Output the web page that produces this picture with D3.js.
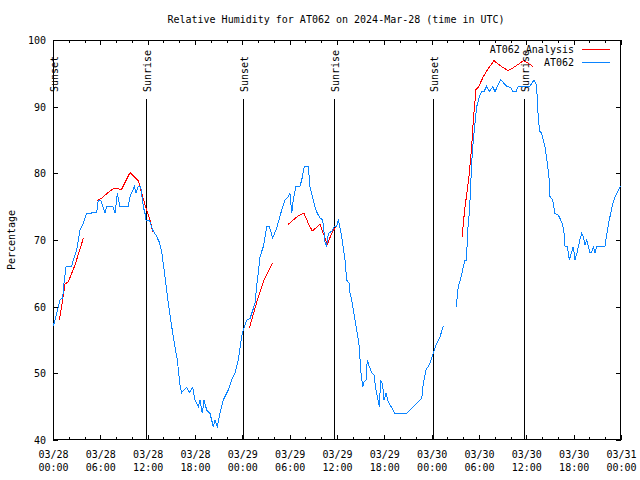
<!DOCTYPE html>
<html>
<head>
<meta charset="utf-8">
<script src="https://cdn.jsdelivr.net/npm/d3@7"></script>
<style>
  html, body { margin: 0; padding: 0; background: #fff; }
  svg { display: block; }
  text { font-family: "DejaVu Sans Mono", "Liberation Mono", monospace; font-size: 10px; fill: #000; }
</style>
</head>
<body>
<div id="chart"></div>
<script>
// ---------- DATA ----------
const startDate = "2024-03-28T00:00:00Z";
const endDate = "2024-03-31T00:00:00Z";
const titleText = "Relative Humidity for AT062 on 2024-Mar-28 (time in UTC)";
const yLabel = "Percentage";
const yTicks = [40, 50, 60, 70, 80, 90, 100];
const xMajorHours = [0, 6, 12, 18, 24, 30, 36, 42, 48, 54, 60, 66, 72];
const xTickLabels = [["03/28","00:00"],["03/28","06:00"],["03/28","12:00"],["03/28","18:00"],
                     ["03/29","00:00"],["03/29","06:00"],["03/29","12:00"],["03/29","18:00"],
                     ["03/30","00:00"],["03/30","06:00"],["03/30","12:00"],["03/30","18:00"],
                     ["03/31","00:00"]];
const sunLabels = ["Sunset", "Sunrise", "Sunset", "Sunrise", "Sunset", "Sunrise"];
const sunHours = [0.04, 11.79, 24.12, 35.66, 48.2, 59.74];

const seriesNames = ["AT062 Analysis", "AT062"];

// AT062 observations (hours since start, % RH); null = gap
const obsHours = [0.04,0.25,0.67,0.89,1.23,1.39,1.65,2.37,2.57,3.0,3.42,3.84,4.27,5.54,5.74,6.05,6.59,6.81,7.6,7.86,
  8.15,8.49,9.51,9.76,10.31,10.52,10.81,11.12,11.45,11.66,11.79,12.21,12.64,13.06,13.47,13.78,14.2,14.62,15.05,15.46,
  15.76,16.1,16.31,16.95,17.28,17.71,18.0,18.42,18.63,18.93,19.14,19.48,19.9,20.32,20.53,20.83,21.17,21.59,22.22,22.65,
  23.07,23.49,23.92,24.12,24.55,24.97,25.61,25.82,26.02,26.24,26.66,27.09,27.42,27.85,28.36,28.99,29.41,29.83,30.04,30.26,
  30.46,30.8,31.31,31.53,31.85,32.36,32.58,32.79,33.21,33.5,33.84,34.19,34.48,34.69,34.9,35.33,35.66,35.96,36.17,36.6,
  37.01,37.23,37.56,37.65,37.86,38.07,38.5,38.83,39.0,39.26,39.42,39.68,39.84,40.1,40.4,40.69,40.94,41.23,41.36,41.54,
  41.79,41.96,42.21,42.5,43.35,44.84,45.67,46.52,46.74,46.94,47.28,47.79,48.2,48.64,49.06,49.48,50.3,
  51.17,51.25,51.5,51.8,52.01,52.23,52.44,52.52,52.77,52.86,53.07,53.28,53.49,53.71,54.04,54.34,54.63,54.98,55.31,55.74,
  56.03,56.75,57.08,57.59,58.02,58.27,58.69,58.98,60.46,60.68,60.97,61.22,61.39,61.52,61.73,61.95,62.37,62.66,62.91,63.0,
  63.34,63.63,64.05,64.36,64.61,64.78,64.9,65.2,65.45,65.75,65.95,66.17,66.46,66.8,67.02,67.22,67.44,67.65,67.86,68.07,
  68.28,68.49,68.7,68.92,69.97,70.18,70.39,70.69,71.02,71.36,71.66,71.96];
const obsValues = [57.1,58,60,61,61.3,63.5,66,66.1,67,68.5,71.5,72.5,74,74.1,76,76,74,75,75,74,
  77,75,75,76.5,78,77.1,78,78,75,74,73,73,71.5,70.7,69.7,68.2,64.5,60.5,57,54,
  52,48.2,47.1,47.9,47.1,47.9,46,45,46,44,46,44.5,44,42,43,42,44,46,47.5,49,
  50,52,55.5,56.5,58,58.2,60.5,63.2,65,67.5,69,72,72,70.3,71.8,74.5,76,76.5,77,74,
  76,78,78.1,79,81,81,78,77,75,74,73.3,73,69.7,69.1,71,71.3,72,72,73.1,70.5,
  67,64,63.5,62,61,59.5,56.5,54,50.5,48,48.7,49,52,51,50.1,49.75,47.5,45.75,45,49,
  48.25,46,47,45.75,44,44,45,46,46.25,48.5,50.5,51.5,53,54.5,55.5,57.1,null,
  60,62.25,63.5,64.75,66,67,67,70.75,74,76,81.5,85,87.5,90,91.5,92.25,92.25,93.1,92.25,93,
  92.25,94.1,93.6,93,92.9,92.25,92.25,93.1,93.1,93.5,94,93.5,91.5,88,86.25,86,84,81.5,79,76.5,
  76,74,73.75,73,72.25,71,69.1,69,67,68.25,69,67,68.25,70.1,71,70.5,69.25,70,69,68.1,
  68.1,69,68.1,69.1,69.1,70.75,72.25,74,75.75,76.75,77.5,78.1];

// AT062 Analysis (hours since start, % RH); null = gap
const anaHours = [0.8,1.1,1.52,1.94,2.79,3.84,4.5,
  5.6,6.17,7.0,7.73,8.7,9.76,10.81,11.24,11.66,12.3,12.64,18.0,
  24.88,25.9,26.75,27.8,28.8,
  29.83,30.46,31.09,31.82,32.36,32.87,33.84,34.26,34.77,35.33,35.96,45.0,
  51.88,52.01,52.23,52.52,52.77,53.07,53.28,53.62,53.91,54.55,55.18,55.9,56.75,57.71,58.69,59.61,60.25,60.88];
const anaValues = [58,60,63.4,63.75,66.25,70.25,null,
  75.9,76.25,77.15,77.75,77.6,80.1,78.9,77,75.3,73,71.25,null,
  56.75,61,64,66.5,null,
  72.35,73,73.65,74,72.5,71.35,72.35,71,69.35,71,72.25,null,
  70.4,72.5,75,77.5,80,84,88,92.6,92.9,94.5,95.75,96.9,96.1,95.4,96.1,96.9,96.5,96];

const seriesColors = ["#ff0000", "#0a84ff"];

// ---------- CHART ----------
(function () {
const W = 640, H = 480;
const mL = 53, mR = 621, mT = 40, mB = 440;
const t0 = new Date(startDate);
const hourToDate = h => new Date(t0.getTime() + h * 3600e3);

const x = d3.scaleUtc().domain([new Date(startDate), new Date(endDate)]).range([mL, mR]);
const y = d3.scaleLinear().domain([40, 100]).range([mB, mT]);

const svg = d3.select("#chart").append("svg").attr("width", W).attr("height", H);
svg.append("rect").attr("width", W).attr("height", H).attr("fill", "#fff");

svg.append("text").attr("x", 336).attr("y", 19).attr("text-anchor", "middle")
  .attr("dominant-baseline", "central").text(titleText);

svg.append("text").attr("transform", `translate(11,${(mT + mB) / 2}) rotate(-90)`)
  .attr("text-anchor", "middle").attr("dominant-baseline", "central").text(yLabel);

const majorDates = xMajorHours.map(hourToDate);
const minorDates = d3.range(0, 73, 2).filter(h => h % 6 !== 0).map(hourToDate);

svg.append("g").attr("transform", `translate(0,${mB})`)
  .call(d3.axisBottom(x).tickValues(minorDates).tickSize(-3).tickSizeOuter(0).tickFormat(""));
svg.append("g").attr("transform", `translate(0,${mT})`)
  .call(d3.axisTop(x).tickValues(minorDates).tickSize(-3).tickSizeOuter(0).tickFormat(""));

const gx = svg.append("g").attr("transform", `translate(0,${mB})`)
  .call(d3.axisBottom(x).tickValues(majorDates).tickSize(-5).tickSizeOuter(0).tickFormat(""));
gx.selectAll(".tick").each(function(d, i) {
  const t = d3.select(this).append("text").attr("text-anchor", "middle").attr("fill", "#000");
  t.append("tspan").attr("x", 0).attr("y", 17.5).text(xTickLabels[i][0]);
  t.append("tspan").attr("x", 0).attr("y", 30.5).text(xTickLabels[i][1]);
});
svg.append("g").attr("transform", `translate(0,${mT})`)
  .call(d3.axisTop(x).tickValues(majorDates).tickSize(-5).tickSizeOuter(0).tickFormat(""));

const gy = svg.append("g").attr("transform", `translate(${mL},0)`)
  .call(d3.axisLeft(y).tickValues(yTicks).tickSize(-5).tickSizeOuter(0).tickPadding(7).tickFormat(d3.format("d")));
svg.append("g").attr("transform", `translate(${mR},0)`)
  .call(d3.axisRight(y).tickValues(yTicks).tickSize(-5).tickSizeOuter(0).tickFormat(""));

svg.selectAll(".domain").remove();
svg.selectAll(".tick line").attr("stroke", "#000").attr("shape-rendering", "crispEdges");
svg.selectAll("g").attr("font-family", null).attr("font-size", null);
gy.selectAll(".tick text").attr("fill", "#000").attr("dominant-baseline", "central").attr("dy", null);

svg.append("rect").attr("x", mL + 0.5).attr("y", mT + 0.5)
  .attr("width", mR - mL - 1).attr("height", mB - mT - 1)
  .attr("fill", "none").attr("stroke", "#000").attr("shape-rendering", "crispEdges");

const sun = svg.append("g");
sunHours.forEach((h, i) => {
  const xv = Math.round(x(hourToDate(h))) + 0.5;
  sun.append("line").attr("x1", xv).attr("x2", xv).attr("y1", 99).attr("y2", mB)
    .attr("stroke", "#000").attr("shape-rendering", "crispEdges");
  sun.append("text").attr("transform", `translate(${xv + 1},92) rotate(-90)`)
    .attr("dominant-baseline", "central").text(sunLabels[i]);
});

const line = d3.line()
  .defined(d => d[1] !== null)
  .x(d => x(hourToDate(d[0])))
  .y(d => y(d[1]));

const anaData = anaHours.map((h, i) => [h, anaValues[i]]);
const obsData = obsHours.map((h, i) => [h, obsValues[i]]);

svg.append("path").datum(anaData).attr("d", line).attr("fill", "none")
  .attr("stroke", seriesColors[0]).attr("stroke-width", 1).attr("shape-rendering", "crispEdges");
svg.append("path").datum(obsData).attr("d", line).attr("fill", "none")
  .attr("stroke", seriesColors[1]).attr("stroke-width", 1).attr("shape-rendering", "crispEdges");

const legY = [49.5, 62.5];
seriesNames.forEach((name, i) => {
  svg.append("text").attr("x", 574).attr("y", legY[i]).attr("text-anchor", "end")
    .attr("dominant-baseline", "central").text(name);
  svg.append("line").attr("x1", 582).attr("x2", 610).attr("y1", legY[i]).attr("y2", legY[i])
    .attr("stroke", seriesColors[i]).attr("stroke-width", 1).attr("shape-rendering", "crispEdges");
});
})();
</script>
</body>
</html>
